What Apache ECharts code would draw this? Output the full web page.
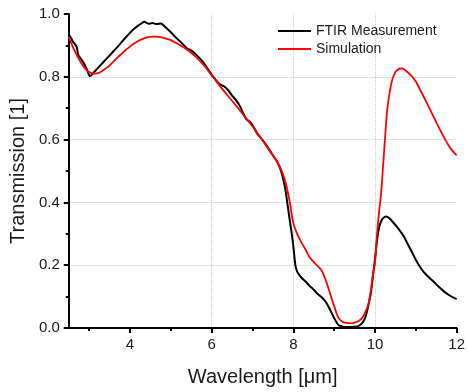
<!DOCTYPE html>
<html>
<head>
<meta charset="utf-8">
<script src="https://cdn.jsdelivr.net/npm/echarts@6/dist/echarts.min.js"></script>
<style>
html,body{margin:0;padding:0;background:#fff;}
#chart{width:468px;height:392px;}
</style>
</head>
<body>
<div id="chart"></div>
<script>
const xMajorTicks = [4, 6, 8, 10, 12];
const xMinorTicks = [3, 5, 7, 9, 11];
const seriesNames = ['FTIR Measurement', 'Simulation'];

const ftirWavelength = [2.5,2.55,2.6,2.65,2.7,2.73,2.8,2.9,3.0,3.02,3.1,3.2,3.3,3.4,3.5,3.6,3.7,3.8,3.9,4.0,4.1,4.2,4.3,4.35,4.45,4.55,4.65,4.75,4.85,5.0,5.1,5.2,5.3,5.4,5.5,5.6,5.7,5.8,5.9,6.0,6.1,6.2,6.3,6.4,6.5,6.6,6.7,6.75,6.85,6.95,7.05,7.1,7.2,7.3,7.4,7.5,7.6,7.7,7.8,7.85,7.9,7.95,8.0,8.05,8.1,8.2,8.3,8.4,8.5,8.6,8.7,8.8,8.9,9.0,9.1,9.2,9.3,9.4,9.5,9.6,9.7,9.75,9.8,9.85,9.9,9.95,10.0,10.05,10.1,10.15,10.2,10.27,10.35,10.42,10.5,10.6,10.7,10.8,10.9,11.0,11.1,11.2,11.3,11.4,11.5,11.6,11.7,11.8,11.9,12.0];
const ftirTransmission = [0.933,0.925,0.912,0.905,0.893,0.870,0.857,0.836,0.805,0.802,0.812,0.826,0.840,0.854,0.868,0.882,0.896,0.911,0.926,0.940,0.953,0.963,0.972,0.975,0.969,0.971,0.968,0.970,0.960,0.942,0.928,0.916,0.903,0.890,0.884,0.873,0.860,0.845,0.826,0.806,0.790,0.776,0.770,0.758,0.740,0.725,0.705,0.690,0.665,0.655,0.635,0.622,0.606,0.590,0.570,0.550,0.530,0.500,0.445,0.400,0.355,0.310,0.261,0.200,0.178,0.160,0.148,0.134,0.122,0.108,0.097,0.082,0.058,0.032,0.010,0.005,0.003,0.003,0.004,0.007,0.018,0.030,0.050,0.080,0.113,0.165,0.219,0.278,0.320,0.340,0.350,0.355,0.350,0.340,0.328,0.312,0.293,0.268,0.243,0.217,0.195,0.177,0.164,0.152,0.139,0.127,0.115,0.106,0.098,0.092];

const simWavelength = [2.5,2.6,2.7,2.8,2.9,3.0,3.1,3.2,3.3,3.4,3.5,3.6,3.7,3.8,3.9,4.0,4.1,4.2,4.3,4.4,4.5,4.6,4.7,4.8,4.9,5.0,5.2,5.4,5.6,5.8,6.0,6.2,6.4,6.6,6.8,7.0,7.2,7.4,7.6,7.7,7.8,7.9,8.0,8.1,8.2,8.3,8.4,8.5,8.6,8.7,8.8,8.9,9.0,9.1,9.2,9.3,9.4,9.5,9.6,9.7,9.8,9.85,9.9,9.95,10.0,10.05,10.1,10.15,10.2,10.26,10.3,10.4,10.5,10.6,10.66,10.75,10.9,11.0,11.1,11.23,11.4,11.55,11.72,11.85,12.0];
const simTransmission = [0.927,0.895,0.868,0.845,0.826,0.815,0.810,0.811,0.817,0.826,0.836,0.849,0.862,0.874,0.886,0.896,0.906,0.914,0.920,0.925,0.927,0.928,0.927,0.925,0.921,0.917,0.903,0.886,0.865,0.838,0.805,0.771,0.739,0.708,0.675,0.642,0.606,0.568,0.530,0.505,0.468,0.410,0.334,0.298,0.272,0.250,0.225,0.210,0.197,0.182,0.150,0.110,0.070,0.034,0.020,0.016,0.015,0.017,0.022,0.035,0.062,0.082,0.120,0.170,0.210,0.300,0.370,0.430,0.520,0.630,0.695,0.780,0.815,0.826,0.827,0.820,0.802,0.785,0.760,0.727,0.682,0.642,0.600,0.572,0.550];

const pairs = (xs, ys) => xs.map((x, i) => [x, ys[i]]);
const FONT = "'Liberation Sans', Arial, sans-serif";
const TXT = '#1a1a1a';

const chart = echarts.init(document.getElementById('chart'), null, {renderer: 'canvas'});
chart.setOption({
  animation: false,
  backgroundColor: '#fff',
  textStyle: {fontFamily: FONT},
  grid: {left: 67, right: 10, top: 14, bottom: 63, containLabel: false},
  legend: {
    orient: 'vertical', left: 272, top: 19,
    itemWidth: 33, itemHeight: 14, itemGap: 4,
    itemStyle: {opacity: 0},
    textStyle: {fontFamily: FONT, fontSize: 14, color: TXT},
    data: seriesNames
  },
  xAxis: [{
    type: 'value', min: 2.5, max: 12,
    name: 'Wavelength [\u03bcm]', nameLocation: 'middle', nameGap: 39,
    nameTextStyle: {fontFamily: FONT, fontSize: 20, color: TXT},
    axisLine: {show: true, onZero: false, lineStyle: {color: '#000', width: 2}},
    axisTick: {show: true, length: 5, lineStyle: {color: '#000', width: 2}, customValues: xMajorTicks},
    axisLabel: {fontFamily: FONT, fontSize: 15, color: TXT, margin: 9, customValues: xMajorTicks},
    splitLine: {show: true, showMinLine: false, showMaxLine: false, lineStyle: {color: '#c8c8c8', type: 'dotted', width: 1}}
  }, {
    type: 'value', min: 2.5, max: 12, position: 'bottom',
    axisLine: {show: false},
    axisTick: {show: true, length: 3, lineStyle: {color: '#000', width: 2}, customValues: xMinorTicks},
    axisLabel: {show: false, customValues: xMinorTicks},
    splitLine: {show: false}
  }],
  yAxis: {
    type: 'value', min: 0, max: 1, interval: 0.2,
    name: 'Transmission [1]', nameLocation: 'middle', nameGap: 38,
    nameTextStyle: {fontFamily: FONT, fontSize: 20, color: TXT},
    axisLine: {show: true, onZero: false, lineStyle: {color: '#000', width: 2}},
    axisTick: {show: true, length: 5, lineStyle: {color: '#000', width: 2}},
    minorTick: {show: true, splitNumber: 2, length: 3, lineStyle: {color: '#000', width: 2}},
    axisLabel: {fontFamily: FONT, fontSize: 15, color: TXT, margin: 9, formatter: v => v.toFixed(1)},
    splitLine: {show: true, showMinLine: false, showMaxLine: false, lineStyle: {color: '#c8c8c8', type: 'dotted', width: 1}}
  },
  series: [{
    name: seriesNames[0], type: 'line', xAxisIndex: 0, symbol: 'none', smooth: 0.3,
    data: pairs(ftirWavelength, ftirTransmission),
    lineStyle: {color: '#000', width: 2}, itemStyle: {color: '#000'}, z: 3
  }, {
    name: seriesNames[1], type: 'line', xAxisIndex: 0, symbol: 'none', smooth: 0.3,
    data: pairs(simWavelength, simTransmission),
    lineStyle: {color: '#ff0000', width: 1.8}, itemStyle: {color: '#ff0000'}, z: 4
  }]
});
</script>
</body>
</html>
